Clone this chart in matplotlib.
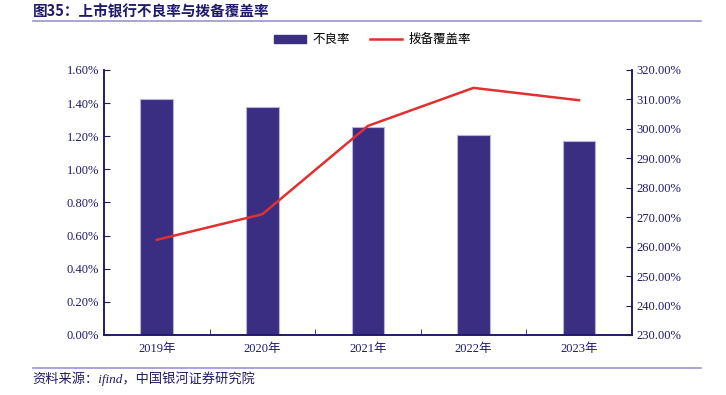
import matplotlib
matplotlib.use("Agg")
import matplotlib.pyplot as plt
from matplotlib.ticker import FuncFormatter, MultipleLocator
from matplotlib.lines import Line2D

plt.rcParams['font.family'] = ['Liberation Serif', 'Noto Sans CJK SC']

# 数据
years = ['2019年', '2020年', '2021年', '2022年', '2023年']
npl_ratio = [1.425, 1.375, 1.255, 1.205, 1.17]        # 不良率 (%)
coverage = [262.3, 271.0, 301.0, 313.9, 309.7]        # 拨备覆盖率 (%)

navy = '#1F1A6B'
bar_color = '#3A2E82'
line_color = '#E03030'

fig = plt.figure(figsize=(7.26, 3.95), dpi=100)
ax = fig.add_axes([0.1433, 0.152, 0.727, 0.671])
ax2 = ax.twinx()

x = range(len(years))
ax.bar(x, npl_ratio, width=0.31, color=bar_color, edgecolor='#B8B2DC', linewidth=0.8,
       label='不良率', zorder=2)
ax2.plot(x, coverage, color=line_color, linewidth=1.8, label='拨备覆盖率', zorder=3)

ax.set_xlim(-0.5, 4.5)
ax.set_ylim(0, 1.6)
ax2.set_ylim(230, 320)
ax.yaxis.set_major_locator(MultipleLocator(0.2))
ax2.yaxis.set_major_locator(MultipleLocator(10))
ax.yaxis.set_major_formatter(FuncFormatter(lambda v, p: f'{v:.2f}%'))
ax2.yaxis.set_major_formatter(FuncFormatter(lambda v, p: f'{v:.2f}%'))

ax.set_xticks(list(x))
ax.set_xticklabels(years)
ax.set_xticks([i + 0.5 for i in range(4)], minor=True)
ax.tick_params(axis='x', which='major', length=0, colors=navy, labelsize=9, pad=6)
ax.tick_params(axis='x', which='minor', direction='in', length=4, color=navy)
ax.tick_params(axis='y', direction='in', length=4, colors=navy, labelsize=9)
ax2.tick_params(axis='y', direction='in', length=4, colors=navy, labelsize=9)

for a in (ax, ax2):
    a.spines['top'].set_visible(False)
    for s in ('left', 'right', 'bottom'):
        a.spines[s].set_color(navy)
        a.spines[s].set_linewidth(1.2)

handles = [plt.Rectangle((0, 0), 1, 1, color=bar_color),
           Line2D([0], [0], color=line_color, linewidth=1.8)]
fig.legend(handles, ['不良率', '拨备覆盖率'], loc='center', bbox_to_anchor=(0.513, 0.899),
           ncol=2, frameon=False, handlelength=2.6, handleheight=0.5, columnspacing=1.6,
           handletextpad=0.5, prop={'family': ['Noto Sans CJK SC'], 'size': 9})

# 标题与来源
fig.text(0.045, 0.97, '图35：上市银行不良率与拨备覆盖率', fontsize=10.5, fontweight='bold',
         color=navy, va='center', family=['Noto Sans CJK SC'])
fig.add_artist(Line2D([0.045, 0.965], [0.946, 0.946], color='#9C94D0', linewidth=1.2))
fig.add_artist(Line2D([0.045, 0.965], [0.069, 0.069], color='#9C94D0', linewidth=1.2))
fig.text(0.045, 0.042, '资料来源：ifind，中国银河证券研究院', fontsize=9.5, style='italic',
         color=navy, va='center', family=['Liberation Serif', 'Noto Sans CJK SC'])

fig.savefig('out.png', dpi=100)
